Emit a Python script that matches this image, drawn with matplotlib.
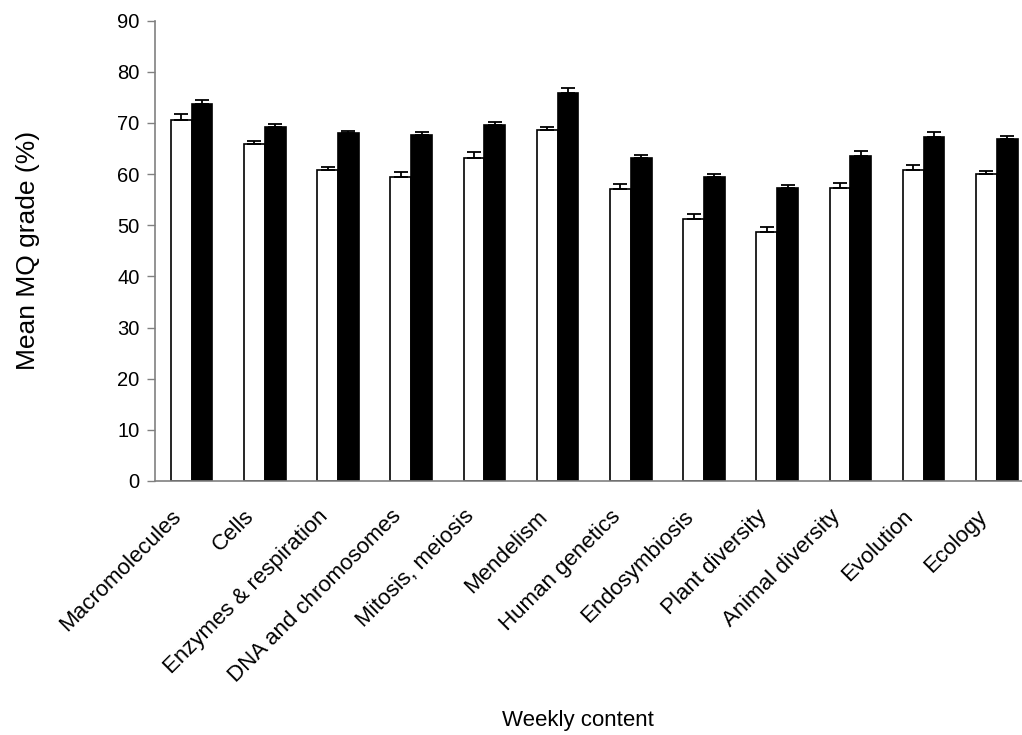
#!/usr/bin/env python3
"""Mean MQ grade per weekly content: two groups (white vs black bars)."""

import matplotlib
matplotlib.use("Agg")
import matplotlib.pyplot as plt
import matplotlib.transforms as mtransforms
import numpy as np

plt.rcParams["font.family"] = ["Liberation Sans", "DejaVu Sans"]

# ------------------------------ data ------------------------------
topics = ["Macromolecules", "Cells", "Enzymes & respiration", "DNA and chromosomes",
          "Mitosis, meiosis", "Mendelism", "Human genetics", "Endosymbiosis",
          "Plant diversity", "Animal diversity", "Evolution", "Ecology"]
white_mean = [70.6, 65.9, 60.8, 59.4, 63.2, 68.6, 57.1, 51.3, 48.7, 57.3, 60.8, 60.1]
white_err  = [1.1, 0.65, 0.6, 1.1, 1.1, 0.7, 0.9, 1.0, 1.0, 1.0, 1.0, 0.6]
black_mean = [73.8, 69.3, 68.0, 67.6, 69.7, 75.8, 63.2, 59.5, 57.3, 63.6, 67.3, 66.9]
black_err  = [0.6, 0.6, 0.5, 0.6, 0.5, 1.0, 0.6, 0.6, 0.6, 1.0, 0.9, 0.6]
yticks = list(range(0, 100, 10))

# ------------------------------ style ------------------------------
W, H, DPI = 1022, 735, 100
BAR_W = 0.285
AXIS_GREY = "#808080"

fig = plt.figure(figsize=(W / DPI, H / DPI), dpi=DPI)
# plot area runs slightly past the right edge, as in the original export
ax = fig.add_axes([155 / W, (H - 481) / H, 878.4 / W, 460.3 / H])

x = np.arange(len(topics))
err_kw = dict(elinewidth=1.3, capthick=1.3, ecolor="black")
ax.bar(x - BAR_W / 2, white_mean, BAR_W, color="white", edgecolor="black",
       linewidth=1.2, yerr=[np.zeros(len(x)), white_err], capsize=5,
       error_kw=err_kw, zorder=2)
ax.bar(x + BAR_W / 2, black_mean, BAR_W, color="black", edgecolor="black",
       linewidth=1.2, yerr=[np.zeros(len(x)), black_err], capsize=5,
       error_kw=err_kw, zorder=2)

ax.set_xlim(-0.5, len(topics) - 0.5)
ax.set_ylim(0, 90)
ax.set_yticks(yticks)
ax.tick_params(axis="y", labelsize=14.5, length=6, width=1, color=AXIS_GREY, pad=5)
ax.set_xticks(x)
ax.set_xticklabels(topics, rotation=45, ha="right", rotation_mode="anchor",
                   fontsize=16)
ax.tick_params(axis="x", length=0, pad=18)
shift = mtransforms.ScaledTranslation(-21 / DPI, 0, fig.dpi_scale_trans)
for lab in ax.get_xticklabels():
    lab.set_transform(lab.get_transform() + shift)

for side in ("top", "right"):
    ax.spines[side].set_visible(False)
for side in ("left", "bottom"):
    ax.spines[side].set_color(AXIS_GREY)
    ax.spines[side].set_linewidth(1.2)

ax.set_ylabel("Mean MQ grade (%)", fontsize=19)
ax.yaxis.set_label_coords(-0.131, 0.5)
ax.set_xlabel("Weekly content", fontsize=16)
ax.xaxis.set_label_coords(0.481, -0.497)

fig.savefig("out.png", dpi=DPI)
